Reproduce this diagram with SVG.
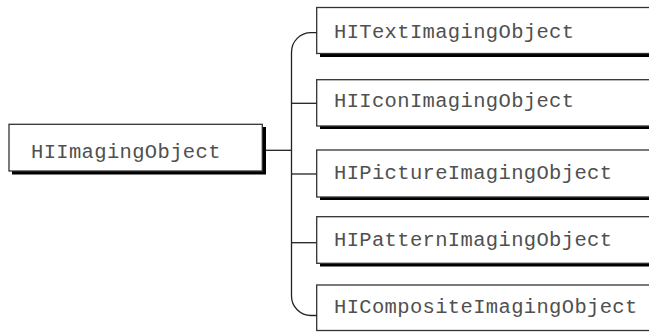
<svg xmlns="http://www.w3.org/2000/svg" width="649" height="332" viewBox="0 0 649 332">
  <style>
    .box { fill: #fff; stroke: #333; stroke-width: 1.3; }
    .shadow { fill: #000; }
    .label { font-family: "Liberation Mono", "DejaVu Sans Mono", monospace; font-size: 20.5px; letter-spacing: 0.35px; fill: #505050; }
    .conn { fill: none; stroke: #222; stroke-width: 1.3; }
  </style>
  <rect width="649" height="332" fill="#fff"/>

  <!-- base class -->
  <g id="HIImagingObject">
    <rect class="shadow" x="12" y="127" width="254" height="47.5"/>
    <rect class="box" x="9" y="124.3" width="253.3" height="46.7"/>
    <text class="label" x="31" y="157.5">HIImagingObject</text>
  </g>

  <!-- subclasses -->
  <g id="HITextImagingObject">
    <rect class="shadow" x="320" y="11" width="340" height="46"/>
    <rect class="box" x="316.7" y="7.5" width="340" height="46"/>
    <text class="label" x="334" y="37.5">HITextImagingObject</text>
  </g>
  <g id="HIIconImagingObject">
    <rect class="shadow" x="320" y="83" width="340" height="46"/>
    <rect class="box" x="316.7" y="79.7" width="340" height="46.3"/>
    <text class="label" x="334" y="106.5">HIIconImagingObject</text>
  </g>
  <g id="HIPictureImagingObject">
    <rect class="shadow" x="320" y="153" width="340" height="47"/>
    <rect class="box" x="316.7" y="150" width="340" height="47"/>
    <text class="label" x="334" y="178.5">HIPictureImagingObject</text>
  </g>
  <g id="HIPatternImagingObject">
    <rect class="shadow" x="320" y="220" width="340" height="46.5"/>
    <rect class="box" x="316.7" y="216.7" width="340" height="46.6"/>
    <text class="label" x="334" y="246">HIPatternImagingObject</text>
  </g>
  <g id="HICompositeImagingObject">
    <rect class="box" x="316.7" y="285" width="340" height="45.5"/>
    <text class="label" x="334" y="313">HICompositeImagingObject</text>
  </g>

  <!-- inheritance connectors -->
  <g id="connectors">
    <line class="conn" x1="266" y1="150.3" x2="291.5" y2="150.3"/>
    <path class="conn" d="M316.7 32.7 H311 A19.5 19.5 0 0 0 291.5 52.2 V296 A19.5 19.5 0 0 0 311 315.5 H316.7"/>
    <line class="conn" x1="291.5" y1="103.3" x2="316.7" y2="103.3"/>
    <line class="conn" x1="291.5" y1="174" x2="316.7" y2="174"/>
    <line class="conn" x1="291.5" y1="242.7" x2="316.7" y2="242.7"/>
  </g>
</svg>
